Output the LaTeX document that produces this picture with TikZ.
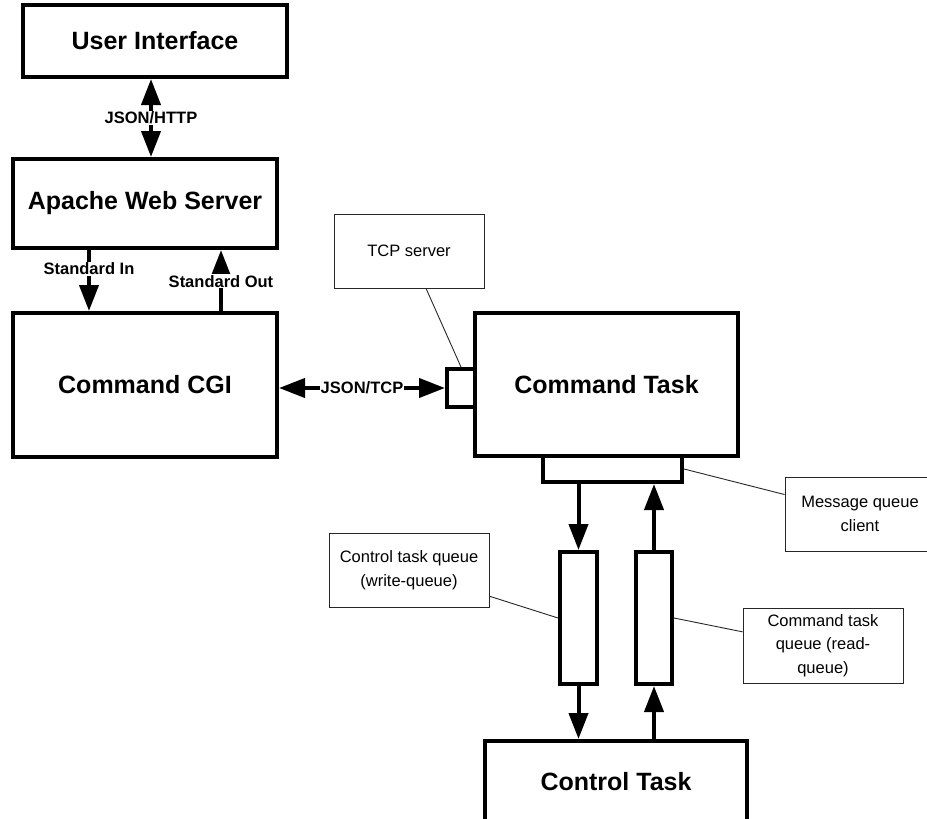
\documentclass[tikz,border=0pt]{standalone}
\usepackage{fontspec}
\setmainfont{Liberation Sans}
\usetikzlibrary{arrows.meta,calc}
\begin{document}
\begin{tikzpicture}[x=1pt,y=-1pt,
  block/.style={draw, line width=4pt, inner sep=0pt, fill=white,
    font=\bfseries\fontsize{25}{29}\selectfont},
  portbox/.style={draw, line width=4pt, inner sep=0pt, fill=white},
  note/.style={draw=black!85, line width=0.9pt, inner sep=0pt, align=center,
    font=\fontsize{16.5}{23.5}\selectfont},
  lead/.style={line width=0.9pt, draw=black!85},
  flow/.style={line width=4pt, -{Triangle[width=19pt,length=26pt]}},
  biflow/.style={line width=4pt, {Triangle[width=19pt,length=26pt]}-{Triangle[width=19pt,length=26pt]}},
  lbl/.style={fill=white, inner sep=1pt, font=\bfseries\fontsize{16.5}{19}\selectfont}]
\useasboundingbox (0,0) rectangle (927,819);
\clip (0,0) rectangle (927,819);

% main components
\node[block, minimum width=264pt, minimum height=72pt]  (ui)     at (155,41)    {User Interface};
\node[block, minimum width=264pt, minimum height=89pt]  (apache) at (145,203.5) {Apache Web Server};
\node[block, minimum width=264pt, minimum height=144pt] (cgi)    at (145,385)   {Command CGI};
\node[block, minimum width=263pt, minimum height=143pt] (task)   at (606.5,384.5) {Command Task};
\node[block, minimum width=262pt, minimum height=82pt]  (ctl)    at (616,782)   {Control Task};

% ports and queues
\node[portbox, minimum width=28pt,  minimum height=38pt]  (port)  at (461,388)   {};
\node[portbox, minimum width=139pt, minimum height=26pt]  (mqbox) at (612.5,469) {};
\node[portbox, minimum width=37pt,  minimum height=132pt] (qL)    at (578.5,618) {};
\node[portbox, minimum width=36pt,  minimum height=132pt] (qR)    at (654,618)   {};

% annotations
\node[note, minimum width=150pt, minimum height=74pt] (tcpnote) at (409,251)   {TCP server};
\node[note, minimum width=150pt, minimum height=74pt] (mqnote)  at (860,514)   {Message queue\\client};
\node[note, minimum width=160pt, minimum height=74pt] (ctqnote) at (409,570)   {Control task queue\\(write-queue)};
\node[note, minimum width=160pt, minimum height=75pt] (cmqnote) at (823,645.5) {Command task\\queue (read-\\queue)};

\draw[lead] ($(tcpnote.south west)!0.613!(tcpnote.south east)$) -- (port.north);
\draw[lead] (mqbox.east) -- ($(mqnote.north west)!0.24!(mqnote.south west)$);
\draw[lead] ($(ctqnote.north east)!0.85!(ctqnote.south east)$) -- (qL.west);
\draw[lead] (qR.east) -- ($(cmqnote.north west)!0.32!(cmqnote.south west)$);

% data flows
\draw[biflow] ($(ui.south)+(-4,0)$) -- ($(apache.north)+(6,0)$)
  node[lbl, midway] {JSON/HTTP};
\draw[flow] ($(apache.south)+(-56,0)$) -- ($(cgi.north)+(-56,0)$)
  node[lbl, pos=0.31] {Standard In};
\draw[flow] ($(cgi.north)+(76,0)$) -- ($(apache.south)+(76,0)$)
  node[lbl, pos=0.49] {Standard Out};
\draw[biflow] (cgi.east |- port.west) -- (port.west)
  node[lbl, midway] {JSON/TCP};
\draw[flow] (mqbox.south -| qL.north) -- (qL.north);
\draw[flow] (qR.north) -- (qR.north |- mqbox.south);
\draw[flow] (qL.south) -- (qL.south |- ctl.north);
\draw[flow] (ctl.north -| qR.south) -- (qR.south);
\end{tikzpicture}
\end{document}
